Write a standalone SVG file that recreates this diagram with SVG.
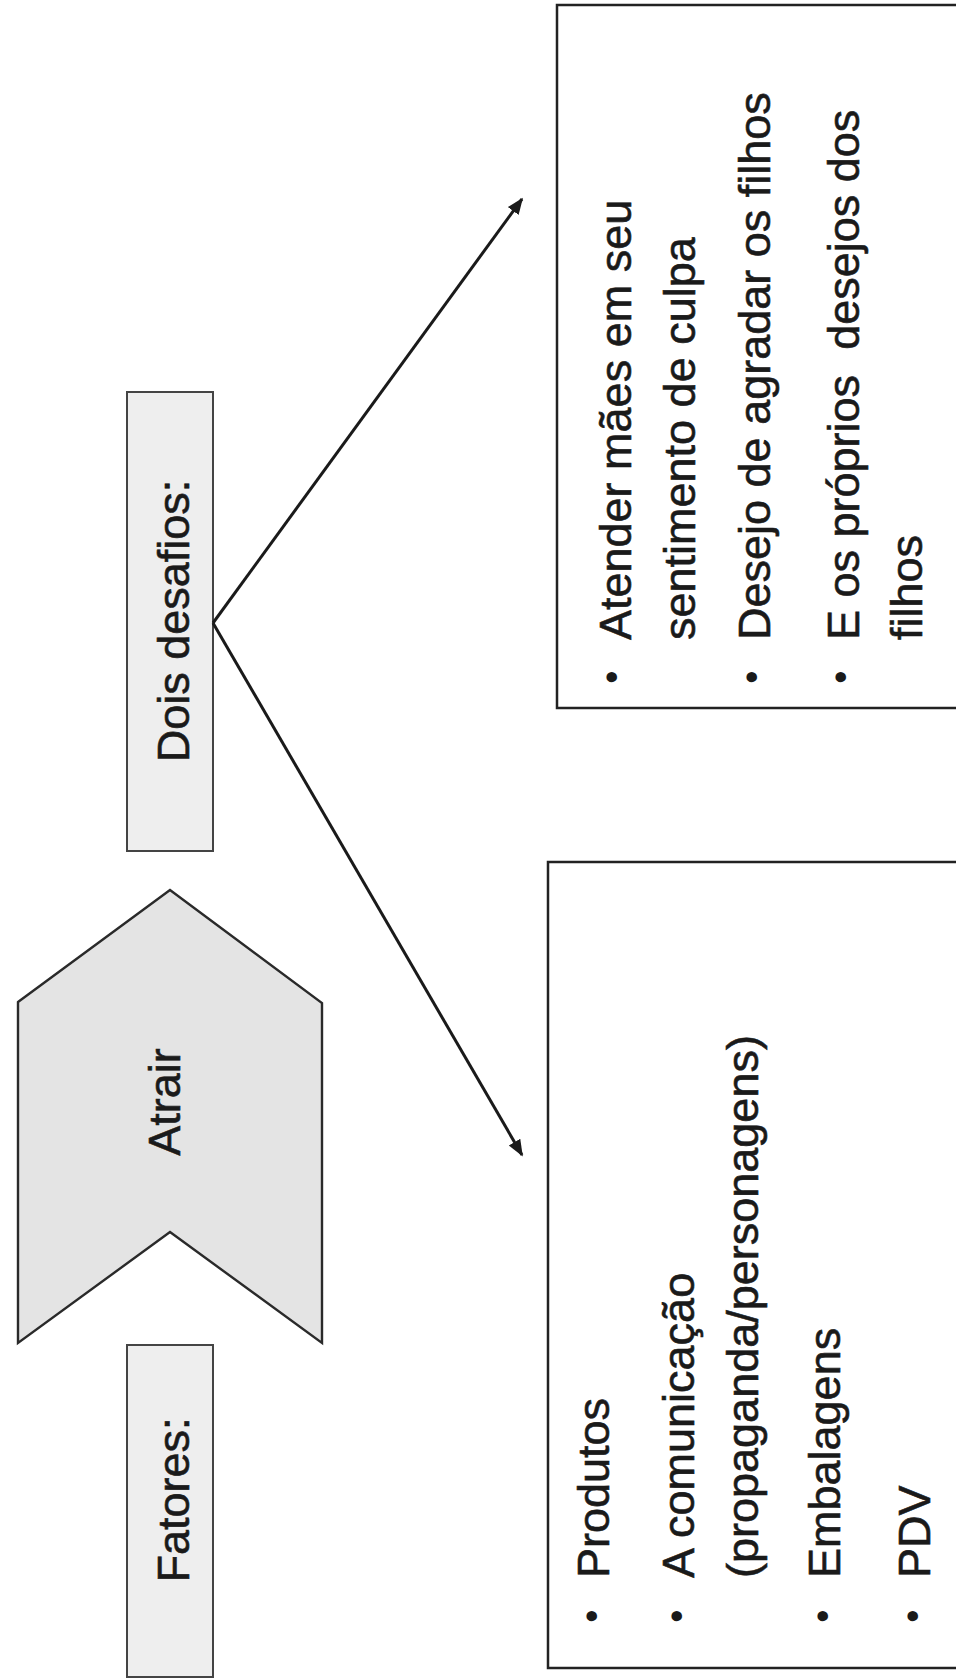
<svg xmlns="http://www.w3.org/2000/svg" width="956" height="1679" viewBox="0 0 956 1679">
<style>
.t{font-family:"Liberation Sans",Arial,sans-serif;font-size:45px;fill:#1a1a1a;stroke:#1a1a1a;stroke-width:0.6;white-space:pre}
.b{font-family:"Liberation Sans",Arial,sans-serif;font-size:38px;fill:#1a1a1a}
.lbl{fill:#eeeeee;stroke:#444;stroke-width:2}
.list{fill:none;stroke:#222;stroke-width:2.5}
.conn{fill:none;stroke:#1a1a1a;stroke-width:3;marker-end:url(#arr)}
</style>
<defs>
<marker id="arr" viewBox="0 0 10 10" refX="9" refY="5" markerWidth="5.5" markerHeight="5.5" orient="auto" markerUnits="strokeWidth">
<path d="M0,1 L10,5 L0,9 z" fill="#1a1a1a"/>
</marker>
</defs>
<rect width="956" height="1679" fill="#ffffff"/>

<g id="dois-desafios">
<rect class="lbl" x="127" y="392" width="86" height="459"/>
<text class="t" transform="translate(189,621) rotate(-90)" text-anchor="middle">Dois desafios:</text>
</g>

<g id="atrair">
<polygon points="18,1002 170,890 322,1003 322,1343 170,1232 18,1343" fill="#e4e4e4" stroke="#2a2a2a" stroke-width="2.4"/>
<text class="t" transform="translate(180,1102) rotate(-90)" text-anchor="middle">Atrair</text>
</g>

<g id="fatores">
<rect class="lbl" x="127" y="1345" width="86" height="332"/>
<text class="t" transform="translate(189,1500) rotate(-90)" text-anchor="middle">Fatores:</text>
</g>

<g id="desafios-lista">
<path class="list" d="M970,5 H557 V708 H970"/>
<text class="b" transform="translate(625,677) rotate(-90)" text-anchor="middle">•</text>
<text class="t" transform="translate(631,640) rotate(-90)">Atender mães em seu</text>
<text class="t" transform="translate(695,640) rotate(-90)">sentimento de culpa</text>
<text class="b" transform="translate(765,677) rotate(-90)" text-anchor="middle">•</text>
<text class="t" transform="translate(770,640) rotate(-90)">Desejo de agradar os filhos</text>
<text class="b" transform="translate(854,677) rotate(-90)" text-anchor="middle">•</text>
<text class="t" transform="translate(859,640) rotate(-90)">E os próprios  desejos dos</text>
<text class="t" transform="translate(922,640) rotate(-90)">filhos</text>
</g>

<g id="fatores-lista">
<path class="list" d="M970,862 H548 V1668 H970"/>
<text class="b" transform="translate(605,1616) rotate(-90)" text-anchor="middle">•</text>
<text class="t" transform="translate(609,1578) rotate(-90)">Produtos</text>
<text class="b" transform="translate(690,1616) rotate(-90)" text-anchor="middle">•</text>
<text class="t" transform="translate(694,1578) rotate(-90)">A comunicação</text>
<text class="t" transform="translate(758,1578) rotate(-90)">(propaganda/personagens)</text>
<text class="b" transform="translate(836,1616) rotate(-90)" text-anchor="middle">•</text>
<text class="t" transform="translate(840,1578) rotate(-90)">Embalagens</text>
<text class="b" transform="translate(926,1616) rotate(-90)" text-anchor="middle">•</text>
<text class="t" transform="translate(930,1578) rotate(-90)">PDV</text>
</g>

<g id="connectors">
<line class="conn" x1="213" y1="623" x2="522" y2="199"/>
<line class="conn" x1="213" y1="623" x2="522" y2="1155"/>
</g>
</svg>
